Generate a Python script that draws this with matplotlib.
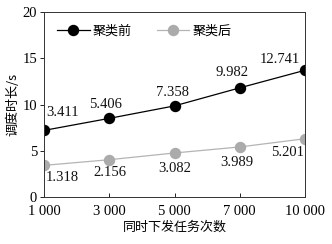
import matplotlib
matplotlib.use("Agg")
import matplotlib.pyplot as plt

plt.rcParams['font.family'] = ['Liberation Serif', 'Noto Sans CJK SC', 'DejaVu Sans']

categories = ["1 000", "3 000", "5 000", "7 000", "10 000"]
before_vals = [7.2, 8.5, 9.85, 11.8, 13.7]
after_vals = [3.42, 4.03, 4.76, 5.41, 6.3]
before_labels = ["3.411", "5.406", "7.358", "9.982", "12.741"]
after_labels = ["1.318", "2.156", "3.082", "3.989", "5.201"]
yticks = [0, 5, 10, 15, 20]

before_offsets = [(19, 18), (-4, 14), (-2, 13), (-8, 15), (-25, 11)]
after_offsets = [(18, -12), (1, -13), (0, -16), (-3, -16), (-17, -14)]

fig = plt.figure(figsize=(3.32, 2.44), dpi=100)
ax = fig.add_axes([44/332, 1-197/244, (305-44)/332, (197-12)/244])

x = list(range(len(categories)))
ax.plot(x, before_vals, color='black', lw=0.9, marker='o', ms=7.2,
        markerfacecolor='black', markeredgecolor='black', label='聚类前')
ax.plot(x, after_vals, color='#b4b4b4', lw=0.9, marker='o', ms=7.2,
        markerfacecolor='#ababab', markeredgecolor='#ababab', label='聚类后')

for xi, v, lab, off in zip(x, before_vals, before_labels, before_offsets):
    ax.annotate(lab, (xi, v), xytext=off, textcoords='offset pixels',
                ha='center', va='center', fontsize=10.5, color='#111111')
for xi, v, lab, off in zip(x, after_vals, after_labels, after_offsets):
    ax.annotate(lab, (xi, v), xytext=off, textcoords='offset pixels',
                ha='center', va='center', fontsize=10.5, color='#111111')

ax.set_xlim(0, len(categories) - 1)
ax.set_ylim(0, 20)
ax.set_xticks(x)
ax.set_xticklabels(categories, fontsize=10.5)
ax.set_yticks(yticks)
ax.set_yticklabels([str(t) for t in yticks], fontsize=10.5)
ax.tick_params(axis='x', direction='in', length=3, width=0.6, pad=6)
ax.tick_params(axis='y', direction='out', length=3, width=0.6, pad=2)
for s in ax.spines.values():
    s.set_linewidth(0.7)
    s.set_color('#333333')

ax.set_xlabel('同时下发任务次数', fontsize=9.4, family=['Noto Sans CJK SC'], labelpad=2)
ax.set_ylabel('调度时长/s', fontsize=9.4, family=['Noto Sans CJK SC', 'Liberation Serif'], labelpad=2)

ax.legend(loc='upper left', bbox_to_anchor=(0.0, 1.0), ncol=2, frameon=False,
          prop={'family': 'Noto Sans CJK SC', 'size': 9.4}, handlelength=2.5,
          columnspacing=1.9, handletextpad=0.25, borderaxespad=0.6)

fig.savefig('out.png', dpi=100)
